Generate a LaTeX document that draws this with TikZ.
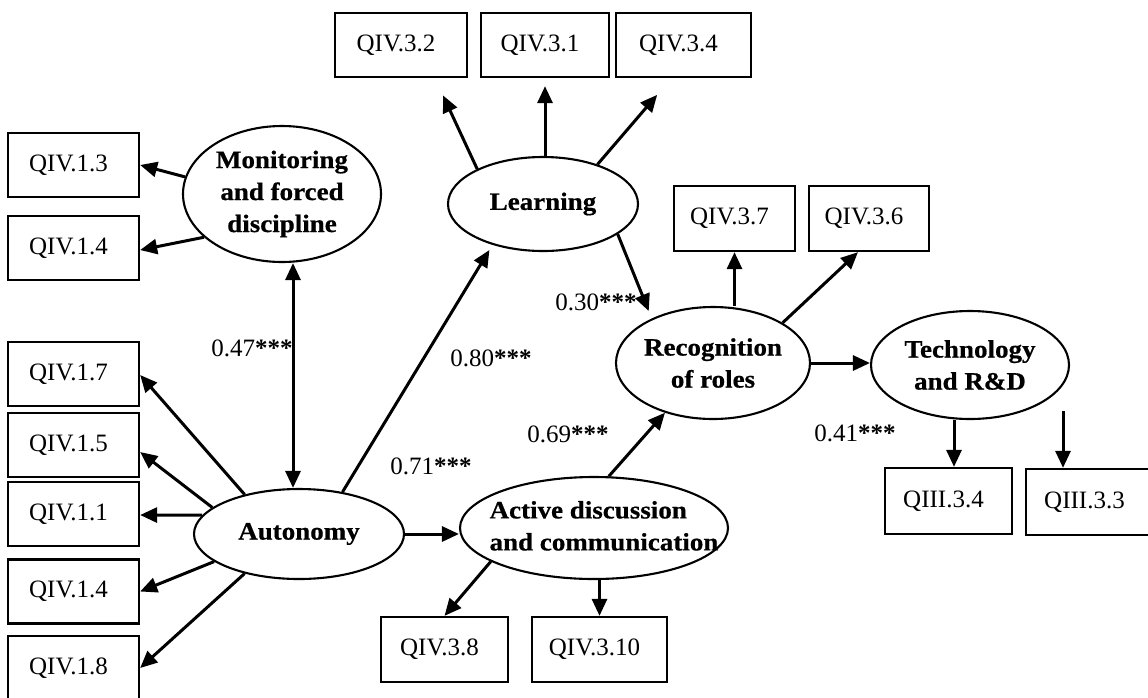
\documentclass[tikz,border=0pt]{standalone}
\usepackage{fontspec}
\setmainfont{Liberation Serif}
\newfontfamily\latfont[FakeStretch=1.08,BoldFeatures={FakeBold=0.6}]{Liberation Serif}
\usetikzlibrary{shapes.geometric,arrows.meta,calc}
\newcommand\latentfont{\latfont\bfseries\fontsize{25}{32}\selectfont}
\newcommand\itemfont{\fontsize{25}{28}\selectfont}
\tikzset{
  box/.style={draw, line width=2.3pt, minimum width=#1, minimum height=64pt,
    inner sep=0pt, font=\itemfont, execute at end node={\kern10pt}},
  box/.default=130pt,
  latent/.style={draw, ellipse, line width=2.1pt, inner sep=0pt, align=center,
    font=\latentfont},
  arr/.style={line width=3pt, -{Triangle[length=17pt,width=15pt]}},
  dbl/.style={line width=3pt, {Triangle[length=17pt,width=15pt]}-{Triangle[length=17pt,width=15pt]}},
  coef/.style={inner sep=0pt, font=\itemfont}
}
\begin{document}
\begin{tikzpicture}[x=1pt,y=-1pt]
\useasboundingbox (0,0) rectangle (1148,697);
\clip (0,0) rectangle (1148,697);
\fill[white] (0,0) rectangle (1148,697);

% latent constructs
\node[latent, minimum width=198pt, minimum height=136pt, inner xsep=-10pt] (mon) at (282,194) {Monitoring\\and forced\\discipline};
\node[latent, minimum width=190pt, minimum height=94pt]  (lrn) at (543,204) {Learning};
\node[latent, minimum width=210pt, minimum height=90pt]  (aut) at (299,534) {Autonomy};
\node[latent, minimum width=268pt, minimum height=102pt, inner xsep=-40pt] (act) at (594,528)
  {\kern20pt\begin{tabular}{@{}l@{}}Active discussion\\and communication\end{tabular}};
\node[latent, minimum width=194pt, minimum height=112pt, inner xsep=-10pt] (rec) at (713,363) {Recognition\\of roles};
\node[latent, minimum width=198pt, minimum height=108pt, inner xsep=-10pt] (tec) at (970,365) {Technology\\and R\&D};

% observed items
\node[box=131pt] (q13)  at (73.5,165)   {QIV.1.3};
\node[box=131pt] (q14a) at (73.5,248)   {QIV.1.4};
\node[box=131pt] (q17)  at (73.5,374)   {QIV.1.7};
\node[box=131pt] (q15)  at (73.5,445)   {QIV.1.5};
\node[box=131pt] (q11)  at (73.5,514)   {QIV.1.1};
\node[box=131pt] (q14b) at (73.5,591.5) {QIV.1.4};
\node[box=131pt] (q18)  at (73.5,668)   {QIV.1.8};
\node[box=132pt] (q32)  at (401,45)     {QIV.3.2};
\node[box=128pt] (q31)  at (545,45)     {QIV.3.1};
\node[box=135pt] (q34)  at (683.5,45)   {QIV.3.4};
\node[box=121pt, minimum height=65pt] (q37) at (734.5,218.5) {QIV.3.7};
\node[box=120pt, minimum height=65pt] (q36) at (869,218.5)   {QIV.3.6};
\node[box=127pt, minimum height=65pt] (q38) at (444.5,649.5) {QIV.3.8};
\node[box=135pt, minimum height=65pt] (q310) at (599.5,649.5) {QIV.3.10};
\node[box=127pt, minimum height=66pt] (q334) at (948.5,501)  {QIII.3.4};
\node[box=127pt, minimum height=66pt] (q333) at (1089.5,502) {QIII.3.3};

% monitoring
\draw[arr] (mon.170) -- (q13.east);
\draw[arr] (mon.209) -- ($(q14a.east)+(0,2)$);
\draw[dbl] ($(mon.south)+(11,0)$) -- ($(aut.north)+(-6,0)$);

% autonomy
\draw[arr] (aut.144) -- ($(q17.east)+(0,1)$);
\draw[arr] (aut.163) -- ($(q15.east)+(0,7)$);
\draw[arr] (aut.169) -- ($(q11.east)+(0,1)$);
\draw[arr] (aut.198) -- (q14b.east);
\draw[arr] (aut.216) -- (q18.east);
\draw[arr, shorten >=6pt] (aut.44) -- (lrn.219);
\draw[arr] (aut.east) -- (aut.east -| act.west);

% learning
\draw[arr, shorten >=19pt] (lrn.152) -- ($(q32.south)+(34,0)$);
\draw[arr, shorten >=8pt] (lrn.north -| q31.south) -- (q31.south);
\draw[arr, shorten >=22pt] (lrn.36) -- ($(q34.south)+(-12,0)$);
\draw[arr, shorten >=8pt] (lrn.338) -- (rec.144);

% active discussion
\draw[arr] (act.74) -- (rec.226);
\draw[arr] (act.198) -- (q38.north);
\draw[arr] (act.south -| q310.north) -- (q310.north);

% recognition
\draw[arr] (rec.north -| q37.south) -- (q37.south);
\draw[arr] (rec.30) -- ($(q36.south)+(-11,0)$);
\draw[arr] (rec.east) -- (rec.east -| tec.west);

% technology
\coordinate (x34) at ($(q334.north)+(5.5,0)$);
\draw[arr] (tec.south -| x34) -- (x34);
\coordinate (x33) at ($(q333.north)+(-26.5,0)$);
\coordinate (t33) at ($(x33)+(0,-57)$);
\draw[arr] (t33) -- (x33);

% path coefficients
\node[coef] (c47) at (252,348) {0.47\textbf{***}};
\node[coef] (c80) at (491,358) {0.80\textbf{***}};
\node[coef] (c71) at (431,466) {0.71\textbf{***}};
\node[coef] (c69) at (568,434) {0.69\textbf{***}};
\node[coef] (c30) at (596,302) {0.30\textbf{***}};
\node[coef] (c41) at (855,433) {0.41\textbf{***}};
\end{tikzpicture}
\end{document}
